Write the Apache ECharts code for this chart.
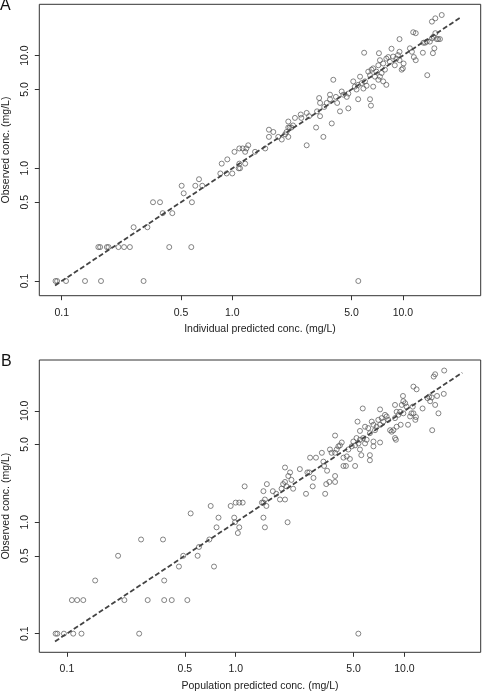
<!DOCTYPE html>
<html><head><meta charset="utf-8">
<script src="https://cdn.jsdelivr.net/npm/echarts@6/dist/echarts.min.js"></script>
<style>html,body{margin:0;padding:0;background:#fff}#c{width:482px;height:691px}</style>
</head><body><div id="c"></div>
<script>
// tick labels shared by both panels
const tickValues = [0.1, 0.5, 1, 5, 10];
const tickLabels = ['0.1', '0.5', '1.0', '5.0', '10.0'];
const panelLetters = ['A', 'B'];
const xTitles = ['Individual predicted conc. (mg/L)', 'Population predicted conc. (mg/L)'];
const yTitle = 'Observed conc. (mg/L)';

// Panel A: [individual predicted, observed]
const pointsA = [
[0.092,0.1],[0.094,0.1],[0.106,0.1],[0.137,0.1],[0.170,0.1],[0.302,0.1],[5.48,0.1],
[0.164,0.2],[0.168,0.2],[0.184,0.2],[0.188,0.2],[0.215,0.2],[0.232,0.2],[0.251,0.2],[0.427,0.2],[0.575,0.2],
[0.264,0.3],[0.318,0.3],[0.343,0.5],[0.377,0.5],[0.58,0.5],[0.391,0.4],[0.445,0.4],
[0.505,0.7],[0.519,0.6],[0.607,0.7],[0.667,0.7],[0.638,0.8],
[0.851,0.9],[0.927,0.9],[1.0,0.9],[0.867,1.1],[0.935,1.2],[1.10,1.1],[1.19,1.1],[1.03,1.4],[1.10,1.5],[1.15,1.5],[1.21,1.5],[1.19,1.4],[1.24,1.6],[1.09,1.0],[1.11,1.0],
[1.36,1.4],[1.56,1.5],[1.64,2.2],[1.64,1.9],[1.74,2.1],[1.86,1.9],[1.95,1.8],
[2.04,2.0],[2.08,2.1],[2.13,2.3],[2.17,2.3],[2.22,2.3],[2.27,2.4],[2.13,1.9],[2.13,2.6],
[2.33,2.8],[2.52,3.0],[2.54,2.8],[2.73,3.1],[2.82,2.9],[2.73,1.6],
[3.10,2.3],[3.14,3.2],[3.27,2.9],[3.27,3.8],[3.23,4.2],[3.42,1.9],
[3.46,3.5],[3.58,3.8],[3.74,4.1],[3.74,4.5],[3.83,2.5],[3.91,6.1],
[4.05,4.3],[4.12,3.8],[4.28,3.2],[4.38,4.8],[4.48,4.5],[4.69,4.3],[4.79,4.6],[4.79,3.4],
[5.12,5.9],[5.23,5.3],[5.35,5.0],[5.47,5.5],[5.47,4.1],
[5.61,6.5],[5.74,5.7],[5.87,5.1],[6.0,5.9],[6.13,5.4],[5.93,10.6],
[6.42,4.1],[6.5,3.6],[6.27,7.2],[6.42,6.7],[6.55,7.5],[6.7,5.3],
[6.7,7.7],[6.86,6.5],[7.0,7.2],[7.18,8.2],[7.18,6.1],[7.34,6.5],[7.34,9.1],[7.24,10.5],
[7.51,7.0],[7.67,8.5],[7.67,5.9],[7.85,7.5],[8.0,5.5],[8.0,9.4],
[8.21,9.7],[8.39,8.8],[8.58,11.5],[8.77,9.8],[8.97,8.2],[9.16,9.4],[9.36,10.1],[9.56,9.1],[9.56,10.8],[9.56,14.0],
[9.84,7.5],[10.0,7.7],[10.1,8.5],
[11.0,11.6],[11.3,10.8],[11.5,16.1],[11.9,15.8],[11.6,9.7],[11.9,9.1],
[13.1,10.6],[13.2,13.0],[13.5,13.0],[13.8,13.3],[13.9,6.7],
[14.4,13.3],[14.8,14.2],[15.1,14.7],[15.5,15.8],[15.0,10.5],[15.3,11.6],
[15.8,14.0],[16.1,14.0],[16.5,14.0],
[14.8,20.0],[15.5,21.4],[16.9,22.9]
];

// Panel B: [population predicted, observed]
const pointsB = [
[0.0857,0.1],[0.0877,0.1],[0.096,0.1],[0.109,0.1],[0.122,0.1],[0.268,0.1],[5.33,0.1],
[0.107,0.2],[0.115,0.2],[0.125,0.2],[0.219,0.2],[0.301,0.2],[0.377,0.2],[0.418,0.2],[0.517,0.2],
[0.147,0.3],[0.377,0.3],[0.461,0.4],[0.744,0.4],[0.201,0.5],[0.489,0.5],[0.595,0.5],
[0.275,0.7],[0.371,0.7],[0.606,0.6],[0.698,0.7],
[0.77,0.9],[0.791,1.1],[0.541,1.2],[0.711,1.4],
[0.934,1.4],[1.0,1.5],[1.05,1.5],[1.10,1.5],[0.99,1.0],[0.98,1.1],[1.03,0.8],[1.05,0.9],
[1.13,2.1],
[1.43,1.5],[1.46,1.5],[1.52,1.4],[1.46,1.1],[1.49,0.9],[1.46,1.9],[1.53,2.2],[1.49,1.6],
[1.66,1.9],[1.74,1.8],[1.83,1.6],[1.87,2.0],[1.91,2.2],[1.96,2.3],[2.0,2.1],[2.05,2.6],[2.10,2.8],[2.14,2.4],[1.96,1.6],[1.96,3.1],[2.19,2.0],[2.03,1.0],
[2.40,3.0],[2.61,1.8],[2.66,2.8],[2.73,2.8],[2.76,3.8],[2.99,3.8],[2.89,2.5],[2.86,2.1],
[3.24,4.2],[3.31,3.5],[3.34,3.2],[3.48,2.9],[3.44,2.2],[3.59,2.3],[3.88,2.3],[3.39,1.8],
[3.62,4.5],[3.70,4.2],[3.88,4.2],[3.97,4.5],[4.06,4.8],[4.15,4.9],[4.25,5.2],[3.88,6.0],[3.88,2.6],
[4.35,3.2],[4.5,3.2],[5.1,3.2],[4.35,3.8],[4.55,3.9],[4.75,3.7],
[4.65,4.5],[4.87,4.8],[4.98,5.3],[5.1,4.9],[5.2,5.7],[5.34,5.1],[5.45,5.5],
[5.27,8.0],[5.45,6.6],[5.45,4.5],[5.55,4.0],[5.66,10.5],
[5.69,5.7],[5.84,5.1],[5.97,5.5],[5.84,7.2],[6.1,7.0],[6.24,6.3],[6.24,4.0],[6.24,3.6],
[6.55,4.8],[6.55,5.3],
[6.4,8.0],[6.55,7.5],[6.69,6.7],[6.84,7.2],[7.0,8.3],[7.17,7.5],[7.17,10.3],[7.17,5.2],
[7.33,8.6],[7.49,8.0],[7.67,9.2],[7.84,8.9],[8.01,8.3],[8.22,6.7],[8.4,6.5],[8.6,6.7],[8.79,5.7],[8.79,8.6],[8.79,11.3],[8.99,9.8],[8.99,7.2],[8.9,5.5],
[9.2,9.2],[9.42,9.8],[9.64,11.3],[9.85,9.5],[9.85,12.2],[10.1,11.7],[10.3,10.9],[9.5,7.5],[9.8,13.6],[10.5,7.5],
[10.8,8.9],[11.0,9.5],[11.3,9.5],[11.6,8.3],[11.7,8.8],[11.3,16.5],[11.8,15.6],[11.2,10.9],
[12.8,10.5],[13.7,13.0],[14.0,13.4],[14.2,12.2],[14.5,13.2],[14.6,6.7],
[15.2,11.3],[15.9,9.5],[15.6,13.6],[17.1,14.2],
[14.9,20.3],[15.2,21.3],[17.2,23.0]
];

// identity (line of unity) end values
const unityA = [0.0914, 22.1];
const unityB = [0.085, 22.0];

// axis ranges
const rangeAx = [0.0739, 28.6], rangeAy = [0.0741, 28.5];
const rangeBx = [0.0686, 28.3], rangeBy = [0.068, 28.6];

const FONT = '"Liberation Sans", Arial, Helvetica, sans-serif';
const TXT = '#222';
const fmt = v => { const i = tickValues.findIndex(t => Math.abs(t - v) < 1e-9); return i >= 0 ? tickLabels[i] : ''; };

function xAx(gi, r, name) {
  return {
    type: 'log', logBase: 10, gridIndex: gi, min: r[0], max: r[1],
    name: name, nameLocation: 'middle', nameGap: 28,
    nameTextStyle: { fontSize: 10.5, color: TXT, fontFamily: FONT },
    axisLine: { show: false },
    axisTick: { show: true, customValues: tickValues, length: 4.5, lineStyle: { color: '#333', width: 1 } },
    axisLabel: { customValues: tickValues, formatter: fmt, fontSize: 10.5, color: TXT, fontFamily: FONT, margin: 11.5 },
    splitLine: { show: false }, minorTick: { show: false }
  };
}
function yAx(gi, r) {
  return {
    type: 'log', logBase: 10, gridIndex: gi, min: r[0], max: r[1],
    name: yTitle, nameLocation: 'middle', nameGap: 28, nameRotate: 90,
    nameTextStyle: { fontSize: 10.5, color: TXT, fontFamily: FONT },
    axisLine: { show: false },
    axisTick: { show: true, customValues: tickValues, length: 4.5, lineStyle: { color: '#333', width: 1 } },
    axisLabel: { customValues: tickValues, formatter: fmt, rotate: 90, fontSize: 10.5, color: TXT, fontFamily: FONT, margin: 9 },
    splitLine: { show: false }, minorTick: { show: false }
  };
}
function scatter(gi, pts) {
  return {
    type: 'scatter', xAxisIndex: gi, yAxisIndex: gi, data: pts,
    symbol: 'circle', symbolSize: 5, silent: true,
    itemStyle: { color: 'rgba(255,255,255,0)', borderColor: '#555', borderWidth: 0.9 }
  };
}
function unity(gi, u) {
  return {
    type: 'line', xAxisIndex: gi, yAxisIndex: gi, data: [[u[0], u[0]], [u[1], u[1]]],
    showSymbol: false, silent: true, z: 3,
    lineStyle: { color: '#444', width: 1.8, type: [5, 2.5] }
  };
}

const chart = echarts.init(document.getElementById('c'), null, { renderer: 'canvas' });
chart.setOption({
  animation: false,
  backgroundColor: '#fff',
  grid: [
    { left: 39.3, top: 4.3, width: 441.4, height: 291.4, show: true, borderColor: '#333', borderWidth: 1, backgroundColor: 'transparent', outerBoundsMode: 'none', containLabel: false },
    { left: 39.3, top: 360, width: 441.4, height: 292.3, show: true, borderColor: '#333', borderWidth: 1, backgroundColor: 'transparent', outerBoundsMode: 'none', containLabel: false }
  ],
  xAxis: [xAx(0, rangeAx, xTitles[0]), xAx(1, rangeBx, xTitles[1])],
  yAxis: [yAx(0, rangeAy), yAx(1, rangeBy)],
  graphic: [
    { type: 'text', left: 0, top: -2, style: { text: panelLetters[0], fontSize: 16, fill: '#111', fontFamily: FONT } },
    { type: 'text', left: 1, top: 354, style: { text: panelLetters[1], fontSize: 16, fill: '#111', fontFamily: FONT } }
  ],
  series: [scatter(0, pointsA), unity(0, unityA), scatter(1, pointsB), unity(1, unityB)]
});
</script>
</body></html>
